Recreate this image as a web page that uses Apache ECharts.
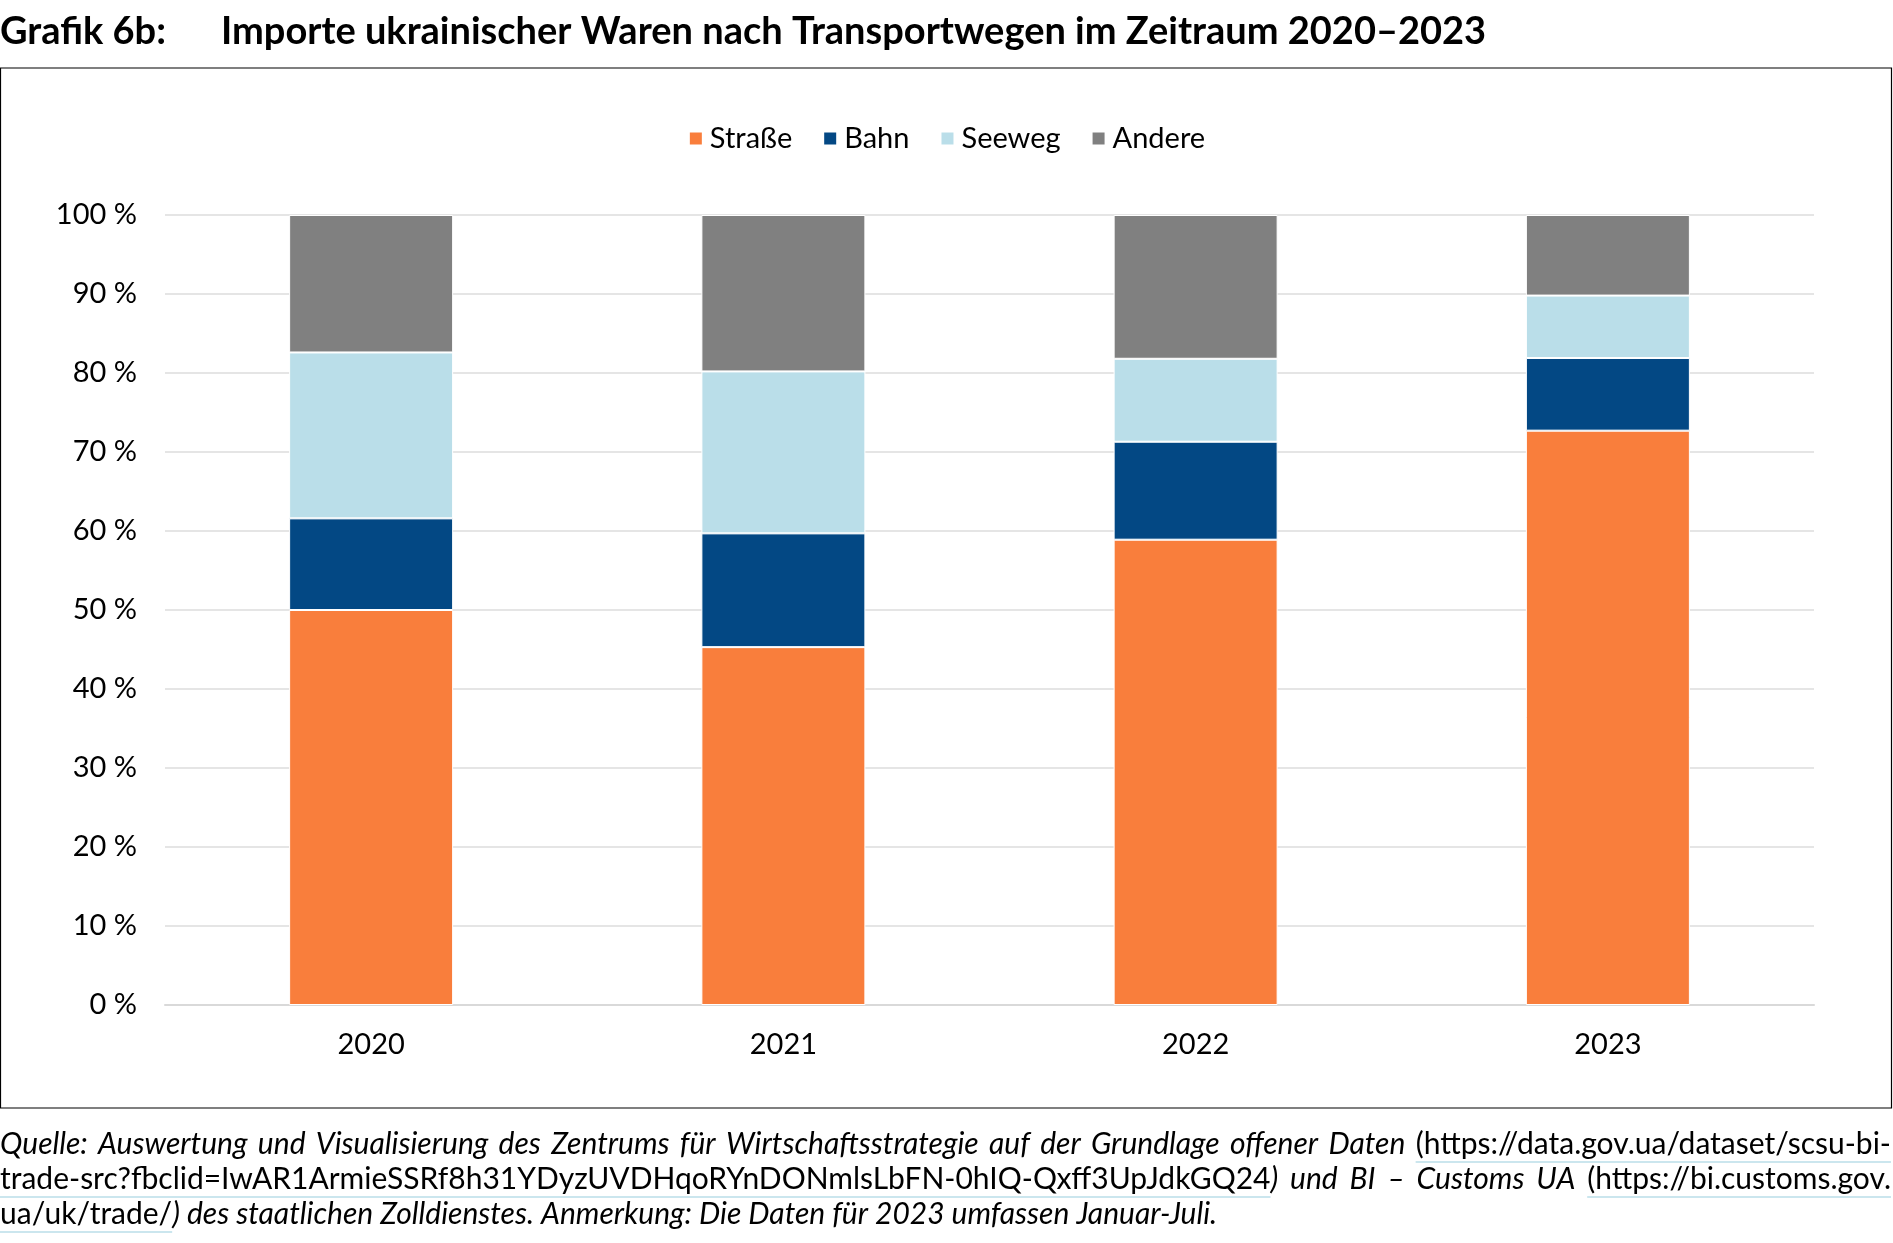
<!DOCTYPE html>
<html>
<head>
<meta charset="utf-8">
<script src="https://cdn.jsdelivr.net/npm/echarts@6/dist/echarts.min.js"></script>
<style>
html,body{margin:0;padding:0;background:#fff;}
#chart{width:1893px;height:1243px;}
</style>
</head>
<body>
<div id="chart"></div>
<script>
const categories = ['2020', '2021', '2022', '2023'];
const strasse = [50.0, 45.3, 58.9, 72.7];
const bahn = [11.6, 14.4, 12.4, 9.2];
const seeweg = [21.0, 20.5, 10.5, 7.9];
const andere = [17.4, 19.8, 18.2, 10.2];
const seriesNames = ['Straße', 'Bahn', 'Seeweg', 'Andere'];
const seriesColors = ['#F97E3C', '#034884', '#BADEE9', '#808080'];
const yTicks = [0, 10, 20, 30, 40, 50, 60, 70, 80, 90, 100];

// footnote lines: segments [text, isLink]
const noteLines = [
  [['Quelle: Auswertung und Visualisierung des Zentrums für Wirtschaftsstrategie auf der Grundlage offener Daten ', false], ['(https://data.gov.ua/dataset/scsu-bi-', true]],
  [['trade-src?fbclid=IwAR1ArmieSSRf8h31YDyzUVDHqoRYnDONmlsLbFN-0hIQ-Qxff3UpJdkGQ24', true], [') und BI – Customs UA ', false], ['(https://bi.customs.gov.', true]],
  [['ua/uk/trade/', true], [') des staatlichen Zolldienstes. Anmerkung: Die Daten für 2023 umfassen Januar-Juli.', false]]
];

const FONT = 'Lato, "Noto Sans", sans-serif';
const F_IT = 'italic 30px ' + FONT;
const F_UP = '30px ' + FONT;
const LINK = '#BADEE9';
const chart = echarts.init(document.getElementById('chart'), null, {renderer: 'canvas'});
const seriesData = [strasse, bahn, seeweg, andere];

// justified footnote layout
const ctx = document.createElement('canvas').getContext('2d');
function measure(t, f) { ctx.font = f; return ctx.measureText(t).width; }
const noteGraphics = [];
const lineCenters = [1144, 1179, 1214];
const targetRight = 1891;
noteLines.forEach((segs, li) => {
  // build words: each word is list of pieces {t, link}
  const words = [];
  let cur = [];
  segs.forEach(([text, link]) => {
    const parts = text.split(' ');
    parts.forEach((p, pi) => {
      if (pi > 0) { if (cur.length) words.push(cur); cur = []; }
      if (p.length) cur.push({t: p, link});
    });
  });
  if (cur.length) words.push(cur);
  const spaceW = measure(' ', F_IT);
  const wordW = words.map(w => w.reduce((s, pc) => s + measure(pc.t, pc.link ? F_UP : F_IT), 0));
  const natural = wordW.reduce((a, b) => a + b, 0) + spaceW * (words.length - 1);
  const justify = li < noteLines.length - 1;
  const extra = justify ? (targetRight - natural) / (words.length - 1) : 0;
  let x = 0;
  const y = lineCenters[li];
  let ulStart = null;
  words.forEach((w, wi) => {
    w.forEach(pc => {
      const f = pc.link ? F_UP : F_IT;
      const wdt = measure(pc.t, f);
      noteGraphics.push({type: 'text', style: {x, y, text: pc.t, font: f, fill: '#000', verticalAlign: 'middle'}});
      if (pc.link) {
        noteGraphics.push({type: 'line', shape: {x1: x, y1: y + 18, x2: x + wdt, y2: y + 18}, style: {stroke: LINK, lineWidth: 1.5}});
      }
      x += wdt;
    });
    x += spaceW + extra;
  });
});

const option = {
  backgroundColor: '#fff',
  animation: false,
  textStyle: {fontFamily: FONT},
  color: seriesColors,
  legend: {
    top: 119,
    left: 'center',
    itemWidth: 14,
    itemHeight: 14,
    itemGap: 30,
    icon: 'rect',
    textStyle: {fontFamily: FONT, fontSize: 29, color: '#000', padding: [0, 0, 0, 2]},
    data: seriesNames
  },
  grid: {left: 165, right: 79, top: 215, bottom: 238, containLabel: false},
  xAxis: {
    type: 'category',
    data: categories,
    axisLine: {show: true, lineStyle: {color: '#d9d9d9', width: 2}},
    axisTick: {show: false},
    axisLabel: {fontFamily: FONT, fontSize: 29, color: '#000', margin: 25}
  },
  yAxis: {
    type: 'value',
    min: yTicks[0],
    max: yTicks[yTicks.length - 1],
    interval: 10,
    axisLine: {show: false},
    axisTick: {show: false},
    splitLine: {lineStyle: {color: '#dcdcdc', width: 1.5}},
    axisLabel: {fontFamily: FONT, fontSize: 29, color: '#000', margin: 28, formatter: v => v + ' %'}
  },
  series: seriesNames.map((name, i) => ({
    name,
    type: 'bar',
    stack: 'total',
    barWidth: 164,
    data: seriesData[i],
    itemStyle: {color: seriesColors[i], borderColor: '#fff', borderWidth: 1}
  })),
  graphic: [
    {type: 'text', left: 0, top: 13, style: {text: 'Grafik 6b:', font: 'bold 38px ' + FONT, fill: '#000'}},
    {type: 'text', left: 221, top: 13, style: {text: 'Importe ukrainischer Waren nach Transportwegen im Zeitraum 2020–2023', font: 'bold 38px ' + FONT, fill: '#000'}},
    {type: 'rect', shape: {x: 0.5, y: 68, width: 1891, height: 1040}, style: {fill: 'none', stroke: '#000', lineWidth: 1.2}, z: 100}
  ].concat(noteGraphics)
};
chart.setOption(option);
</script>
</body>
</html>
